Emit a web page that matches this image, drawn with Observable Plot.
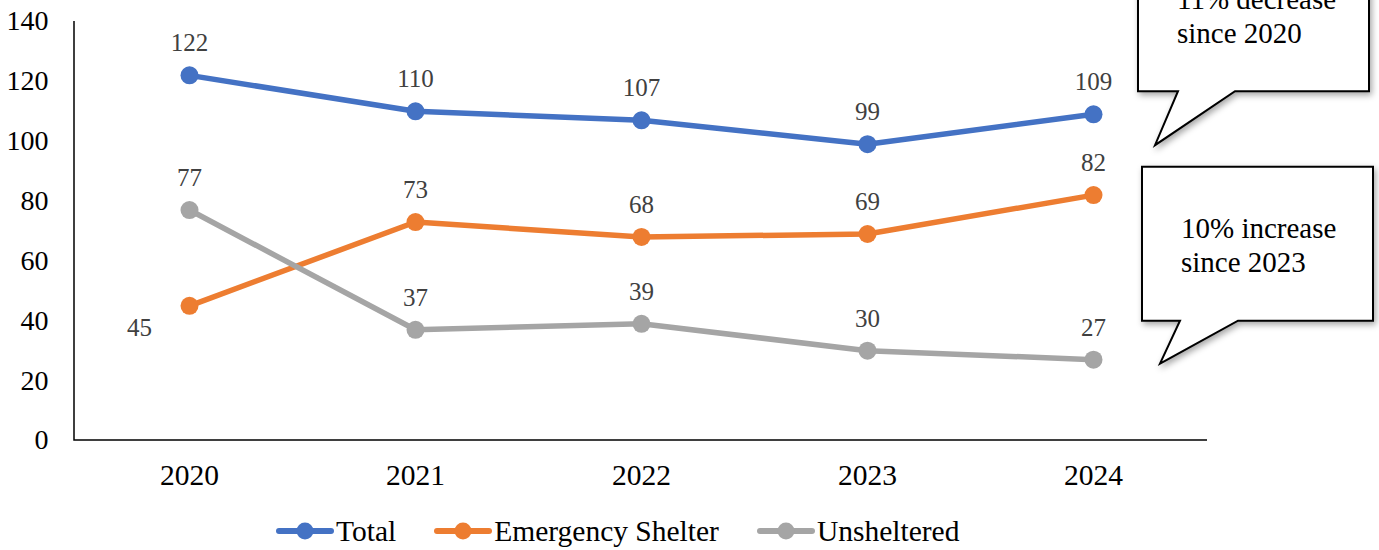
<!DOCTYPE html>
<html><head><meta charset="utf-8">
<script src="https://cdn.jsdelivr.net/npm/d3@7"></script>
<script src="https://cdn.jsdelivr.net/npm/@observablehq/plot@0.6"></script>
<style>
body{margin:0;background:#fff;font-family:"Liberation Serif","Times New Roman",serif;}
#legend{height:50px;display:flex;align-items:center;padding-left:276px;font-size:29.5px;color:#000;margin-top:6px}
.item{display:flex;align-items:center;margin-right:38px}
.item svg{margin-right:2px}
</style></head><body><div id="chart"></div><div id="legend"></div>
<script>
const years = ["2020", "2021", "2022", "2023", "2024"];
const total = [122, 110, 107, 99, 109];
const emergencyShelter = [45, 73, 68, 69, 82];
const unsheltered = [77, 37, 39, 30, 27];
const seriesNames = ["Total", "Emergency Shelter", "Unsheltered"];
const seriesColors = ["#4472C4", "#ED7D31", "#A5A5A5"];
const yTicks = [0, 20, 40, 60, 80, 100, 120, 140];
const callout1 = ["11% decrease", "since 2020"];
const callout2 = ["10% increase", "since 2023"];

const rows = [];
[total, emergencyShelter, unsheltered].forEach((vals, s) =>
  vals.forEach((v, i) => rows.push({series: seriesNames[s], year: years[i], value: v})));
const isLeftLabel = d => d.series === "Emergency Shelter" && d.year === "2020";

const plot = Plot.plot({
  width: 1379,
  height: 500,
  marginLeft: 74,
  marginRight: 172,
  marginTop: 21,
  marginBottom: 60,
  style: {fontFamily: '"Liberation Serif","Times New Roman",serif', fontSize: "28px", color: "#000", background: "#fff", overflow: "visible"},
  x: {type: "point", domain: years, padding: 0.5, label: null},
  y: {domain: [0, 140], ticks: yTicks, label: null},
  color: {domain: seriesNames, range: seriesColors},
  marks: [
    Plot.axisY({ticks: yTicks, tickSize: 0, tickPadding: 26, label: null, fontSize: 28}),
    Plot.axisX({tickSize: 0, tickPadding: 24, label: null, fontSize: 29.5}),
    Plot.line(rows, {x: "year", y: "value", z: "series", stroke: "series", strokeWidth: 5.5, strokeLinejoin: "round", strokeLinecap: "round"}),
    Plot.dot(rows, {x: "year", y: "value", fill: "series", r: 9}),
    Plot.text(rows.filter(d => !isLeftLabel(d)), {x: "year", y: "value", text: d => String(d.value), dy: -32, fill: "#404040", fontSize: 25}),
    Plot.text(rows.filter(isLeftLabel), {x: "year", y: "value", text: d => String(d.value), dx: -50, dy: 22, fill: "#404040", fontSize: 25})
  ]
});
document.getElementById("chart").appendChild(plot);

const svg = d3.select(plot);
const xs = plot.scale("x"), ys = plot.scale("y");

// axis lines along the frame (left and bottom)
const [x0, x1] = xs.range;
const [yb, yt] = ys.range;
svg.append("path").attr("d", `M${x0},${yt}V${yb}H${x1}`).attr("fill", "none").attr("stroke", "#000").attr("stroke-width", 1.5);

// callouts positioned from the scales
const defs = svg.append("defs");
const f = defs.append("filter").attr("id", "shadow").attr("x", "-20%").attr("y", "-20%").attr("width", "140%").attr("height", "140%");
f.append("feDropShadow").attr("dx", 2).attr("dy", 3).attr("stdDeviation", 3).attr("flood-color", "#000").attr("flood-opacity", 0.35);

function bubble(tx, ty, lines, o) {
  const left = tx + o.left, right = tx + o.right, bottom = ty - o.tail, top = bottom - 154;
  const b1 = tx + o.b1, b2 = tx + o.b2;
  const path = `M${left},${top}H${right}V${bottom}H${b2}L${tx},${ty}L${b1},${bottom}H${left}Z`;
  const g = svg.append("g");
  g.append("path").attr("d", path).attr("fill", "#fff").attr("stroke", "#000").attr("stroke-width", 2).attr("filter", "url(#shadow)");
  lines.forEach((t, i) => g.append("text").attr("x", tx + o.tx).attr("y", ty - o.ty + i * 34).attr("dy", "0.32em")
    .attr("text-anchor", "start").attr("font-size", 29).attr("fill", "#000").text(t));
}
const xr = xs.apply("2024");
bubble(xr + 62, ys.apply(98.5), callout1, {left: -17, right: 214, tail: 54, b1: 23, b2: 80, tx: 22, ty: 145});
bubble(xr + 67, ys.apply(25.5), callout2, {left: -18, right: 213, tail: 43, b1: 20, b2: 78, tx: 21, ty: 135});

// legend
const legend = d3.select("#legend");
seriesNames.forEach((name, i) => {
  const it = legend.append("div").attr("class", "item");
  const s = it.append("svg").attr("width", 58).attr("height", 22);
  s.append("line").attr("x1", 3).attr("x2", 55).attr("y1", 11).attr("y2", 11).attr("stroke", seriesColors[i]).attr("stroke-width", 6).attr("stroke-linecap", "round");
  s.append("circle").attr("cx", 29).attr("cy", 11).attr("r", 8.5).attr("fill", seriesColors[i]);
  it.append("span").text(name);
});
</script></body></html>
